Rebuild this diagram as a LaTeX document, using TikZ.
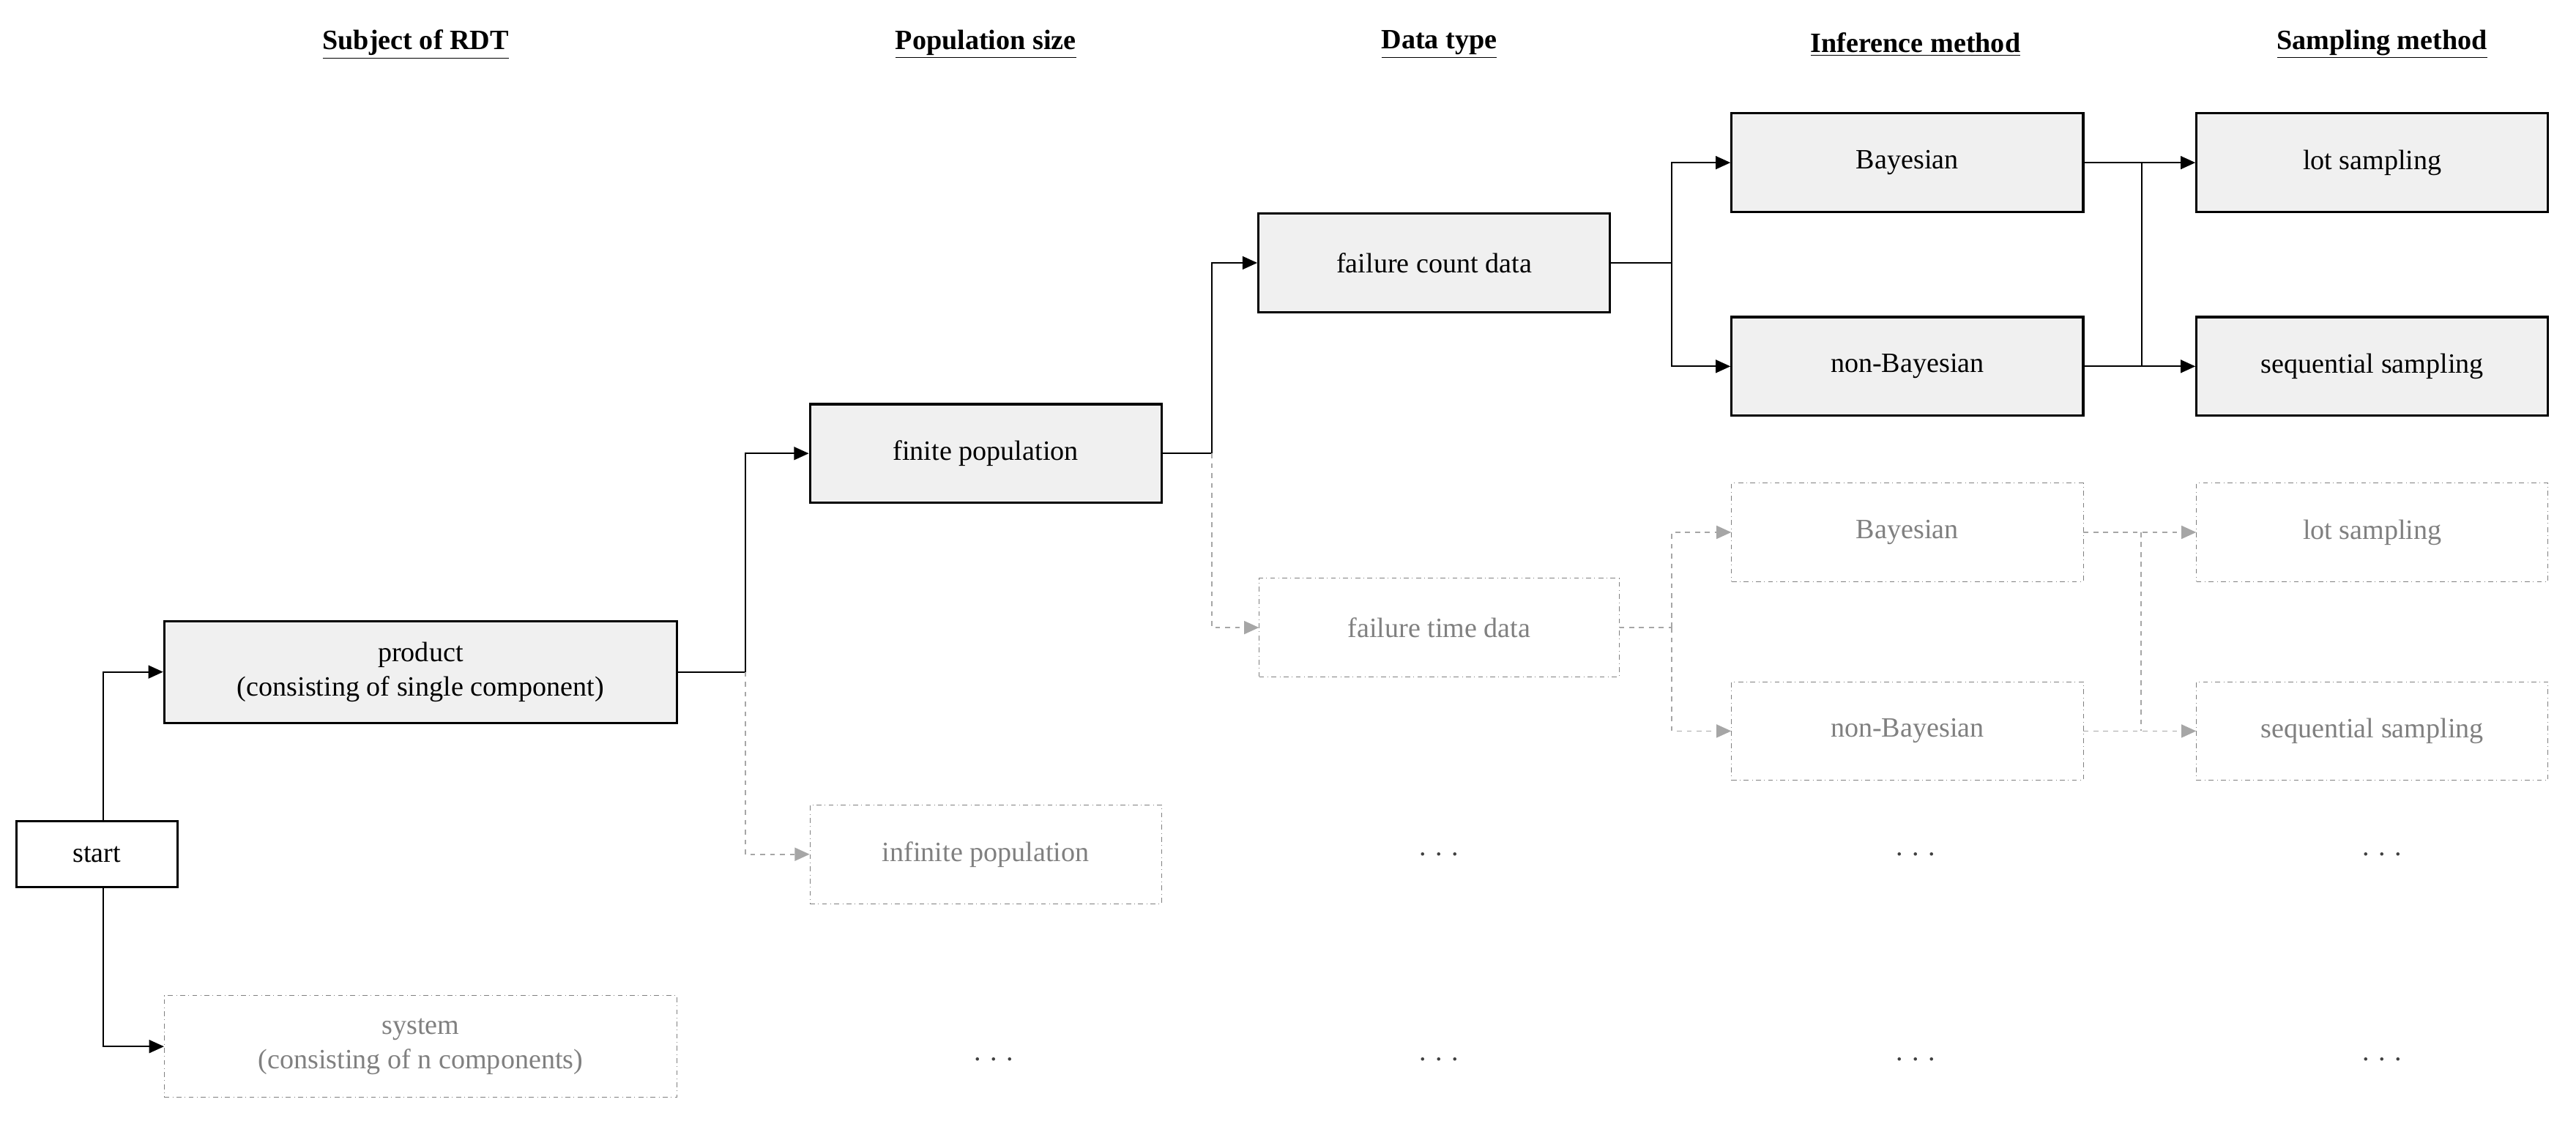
\documentclass[tikz,border=0pt]{standalone}
\usepackage{fontspec}
\setmainfont{Liberation Serif}
\usetikzlibrary{arrows.meta,positioning,calc}
\tikzset{
    rdt-box/.style={
        rectangle,
        draw=black,
        line width=1.4pt,
        fill=gray!12,
        minimum width=214pt,
        minimum height=60pt,
        align=center
    },
    rdt-start/.style={
        rectangle,
        draw=black,
        line width=1.4pt,
        minimum width=98pt,
        minimum height=40pt
    },
    rdt-gbox/.style={
        rectangle,
        draw=gray,
        dash dot,
        text=gray,
        minimum width=214pt,
        minimum height=60pt,
        align=center
    },
    rdt-head/.style={
        font=\fontsize{17}{21}\selectfont\bfseries
    },
    rdt-arr/.style={
        draw,
        thick,
        -{Triangle[length=9pt,width=8pt]}
    },
    rdt-garr/.style={
        draw=gray!70,
        thick,
        dashed,
        -{Triangle[length=9pt,width=8pt]}
    },
    rdt-dots/.style={
        text=gray!50!black
    }
}

\begin{document}
\begin{tikzpicture}[x=1pt,y=1pt,font=\fontsize{17}{21}\selectfont]
    \useasboundingbox (0,0) rectangle (1568,-689);
    % column headers
    \node [rdt-head] (H1) at (253,-27) {\underline{Subject of RDT}};
    \node [rdt-head] (H2) at (600,-27) {\underline{Population size}};
    \node [rdt-head] (H3) at (876,-27) {\underline{Data type}};
    \node [rdt-head] (H4) at (1166,-27) {\underline{Inference method}};
    \node [rdt-head] (H5) at (1450,-27) {\underline{Sampling method}};
    % boxes
    \node [rdt-start] (start) at (59,-520) {start};
    \node [rdt-box,minimum width=312pt,minimum height=62pt] (product) at (256,-409) {product\\(consisting of single component)};
    \node [rdt-gbox,minimum width=312pt,minimum height=62pt] (system) at (256,-637) {system\\(consisting of n components)};
    \node [rdt-box] (finite) at (600,-276) {finite population};
    \node [rdt-gbox] (infinite) at (600,-520) {infinite population};
    \node [rdt-box] (count) at (873,-160) {failure count data};
    \node [rdt-gbox,minimum width=219pt] (time) at (876,-382) {failure time data};
    \node [rdt-box] (bayes) at (1161,-99) {Bayesian};
    \node [rdt-box] (nonbayes) at (1161,-223) {non-Bayesian};
    \node [rdt-box] (lot) at (1444,-99) {lot sampling};
    \node [rdt-box] (seq) at (1444,-223) {sequential sampling};
    \node [rdt-gbox] (gbayes) at (1161,-324) {Bayesian};
    \node [rdt-gbox] (gnonbayes) at (1161,-445) {non-Bayesian};
    \node [rdt-gbox] (glot) at (1444,-324) {lot sampling};
    \node [rdt-gbox] (gseq) at (1444,-445) {sequential sampling};
    % dots
    \foreach \x/\n in {876/a,1166/b,1450/c} {
        \node [rdt-dots] (d1\n) at (\x,-520) {. . .};
    }
    \foreach \x/\n in {605/a,876/b,1166/c,1450/d} {
        \node [rdt-dots] (d2\n) at (\x,-645) {. . .};
    }
    % junctions
    \coordinate (j0) at ($(start.north)+(4,0)$);
    \coordinate (j0b) at ($(start.south)+(4,0)$);
    \coordinate (j1) at ($(product.east)+(41,0)$);
    \coordinate (j2) at ($(finite.east)+(30,0)$);
    \coordinate (j3) at ($(count.east)+(37,0)$);
    \coordinate (j4) at ($(time.east)+(32,0)$);
    \coordinate (j5) at ($(bayes.east)+(35,0)$);
    \coordinate (j6) at ($(nonbayes.east)+(35,0)$);
    \coordinate (j7) at ($(gbayes.east)+(35,0)$);
    \coordinate (j8) at ($(gnonbayes.east)+(35,0)$);
    % connectors
    \draw [rdt-arr] (j0) |- (product.west);
    \draw [rdt-arr] (j0b) |- (system.west);
    \draw [thick] (product.east) -- (j1);
    \draw [rdt-arr] (j1) |- (finite.west);
    \draw [rdt-garr] (j1) |- (infinite.west);
    \draw [thick] (finite.east) -- (j2);
    \draw [rdt-arr] (j2) |- (count.west);
    \draw [rdt-garr] (j2) |- (time.west);
    \draw [thick] (count.east) -- (j3);
    \draw [rdt-arr] (j3) |- (bayes.west);
    \draw [rdt-arr] (j3) |- (nonbayes.west);
    \draw [rdt-arr] (bayes.east) -- (lot.west);
    \draw [rdt-arr] (nonbayes.east) -- (seq.west);
    \draw [thick] (j5) -- (j6);
    \draw [thick,dashed,gray!70] (time.east) -- (j4);
    \draw [rdt-garr] (j4) |- (gbayes.west);
    \draw [rdt-garr] (j4) |- (gnonbayes.west);
    \draw [rdt-garr] (gbayes.east) -- (glot.west);
    \draw [rdt-garr] (gnonbayes.east) -- (gseq.west);
    \draw [thick,dashed,gray!70] (j7) -- (j8);
\end{tikzpicture}
\end{document}
